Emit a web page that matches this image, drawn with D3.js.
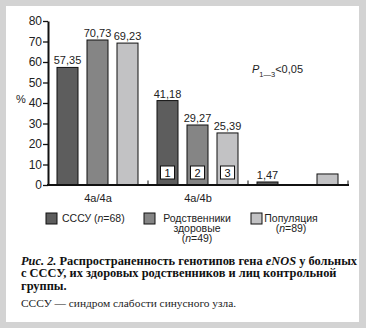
<!DOCTYPE html>
<html>
<head>
<meta charset="utf-8">
<script src="https://cdn.jsdelivr.net/npm/d3@7"></script>
<style>
  html, body { margin: 0; padding: 0; background: #fff; }
  svg { display: block; }
  .sans { font-family: "Liberation Sans", Arial, Helvetica, sans-serif; }
  .serif { font-family: "Liberation Serif", "Times New Roman", serif; }
</style>
</head>
<body>
<svg id="chart" width="366" height="328"></svg>
<script>
// Genotype groups (x axis) and their printed labels
const genotypes = [0, 1, 2];
const genotypeLabels = ["4a/4a", "4a/4b", ""];

// Study groups (series)
const seriesNames = ["СССУ", "Родственники здоровые", "Популяция"];
const seriesColors = ["#5d5d5d", "#858585", "#c2c2c4"];
const seriesBoxes = ["1", "2", "3"];

// Frequencies, % (rows = genotype, columns = study group)
const sssuValues = [57.35, 41.18, 1.47];
const relativesValues = [70.73, 29.27, 0];
const populationValues = [69.23, 25.39, 5.38];
// Whether each value is printed above its bar
const sssuLabelled = [true, true, true];
const relativesLabelled = [true, true, false];
const populationLabelled = [true, true, false];

const yTicks = [0, 10, 20, 30, 40, 50, 60, 70, 80];

const seriesValues = [sssuValues, relativesValues, populationValues];
const seriesLabelled = [sssuLabelled, relativesLabelled, populationLabelled];

const svg = d3.select("#chart");

// Paper frame
svg.append("rect").attr("width", 366).attr("height", 328).attr("fill", "#d3d3d3");
svg.append("rect").attr("x", 6).attr("y", 6).attr("width", 353).attr("height", 316).attr("fill", "#fff");

const y = d3.scaleLinear().domain([0, 80]).range([185, 21]);
const x0 = d3.scaleBand().domain(genotypes).range([48, 348]).padding(0);
const x1 = d3.scaleBand().domain([0, 1, 2]).range([0, 99]).paddingInner(0.3).paddingOuter(0.3);

const fmt = v => d3.format(".2f")(v).replace(".", ",");

// Bars
const bars = [];
genotypes.forEach((g, gi) => {
  seriesValues.forEach((vals, si) => {
    bars.push({ g, si, v: vals[gi], lab: seriesLabelled[si][gi] });
  });
});

const chart = svg.append("g");

chart.selectAll("rect.bar")
  .data(bars.filter(d => d.v > 0))
  .join("rect")
  .attr("class", "bar")
  .attr("x", d => x0(d.g) + x1(d.si))
  .attr("y", d => y(d.v))
  .attr("width", x1.bandwidth())
  .attr("height", d => y(0) - y(d.v))
  .attr("fill", d => seriesColors[d.si])
  .attr("stroke", "#111")
  .attr("stroke-width", 1);

// Value labels
chart.selectAll("text.val")
  .data(bars.filter(d => d.lab))
  .join("text")
  .attr("class", "val sans")
  .attr("x", d => x0(d.g) + x1(d.si) + x1.bandwidth() / 2)
  .attr("y", d => y(d.v) - 3)
  .attr("text-anchor", "middle")
  .attr("font-size", 11)
  .attr("fill", "#222")
  .text(d => fmt(d.v));

// Numbered boxes inside the 4a/4b bars
const boxed = bars.filter(d => d.g === 1);
const boxG = chart.selectAll("g.box")
  .data(boxed)
  .join("g")
  .attr("class", "box")
  .attr("transform", d => `translate(${x0(d.g) + x1(d.si) + x1.bandwidth() / 2},${y(0) - 12.5})`);
boxG.append("rect")
  .attr("x", -7).attr("y", -6.5).attr("width", 14).attr("height", 13)
  .attr("fill", "#fff").attr("stroke", "#111").attr("stroke-width", 1);
boxG.append("text")
  .attr("class", "sans")
  .attr("text-anchor", "middle")
  .attr("y", 4)
  .attr("font-size", 11)
  .attr("fill", "#111")
  .text(d => seriesBoxes[d.si]);

// Y axis
const yAxis = svg.append("g")
  .attr("class", "sans")
  .attr("transform", "translate(48,0)")
  .call(d3.axisLeft(y).tickValues(yTicks).tickSize(5).tickPadding(1).tickSizeOuter(0));
yAxis.select(".domain").attr("stroke", "#111").attr("stroke-width", 2);
yAxis.selectAll(".tick line").attr("stroke", "#111").attr("stroke-width", 1.3);
yAxis.selectAll(".tick text").attr("font-size", 12).attr("fill", "#222").attr("font-family", null);

// X axis
const xAxis = svg.append("g")
  .attr("class", "sans")
  .attr("transform", `translate(0,${y(0)})`);
xAxis.append("line")
  .attr("x1", 47).attr("x2", x0.range()[1] + 1)
  .attr("stroke", "#111").attr("stroke-width", 2);
xAxis.selectAll("line.sep")
  .data(genotypes)
  .join("line")
  .attr("class", "sep")
  .attr("x1", d => x0(d) + x0.bandwidth())
  .attr("x2", d => x0(d) + x0.bandwidth())
  .attr("y1", 0).attr("y2", -4.5)
  .attr("stroke", "#111").attr("stroke-width", 1);
xAxis.selectAll("text.cat")
  .data(genotypes)
  .join("text")
  .attr("class", "cat")
  .attr("x", d => x0(d) + x0.bandwidth() / 2)
  .attr("y", 17)
  .attr("text-anchor", "middle")
  .attr("font-size", 11)
  .attr("fill", "#222")
  .text(d => genotypeLabels[d]);

// Axis title
svg.append("text").attr("class", "sans")
  .attr("x", 21).attr("y", 103).attr("text-anchor", "middle")
  .attr("font-size", 11).attr("fill", "#222").text("%");

// Significance note
const pNote = svg.append("text").attr("class", "sans")
  .attr("x", 252).attr("y", 73).attr("font-size", 11).attr("fill", "#222");
pNote.append("tspan").attr("font-style", "italic").text("P");
pNote.append("tspan").attr("dy", 3.5).attr("font-size", 7.5).text("1—3");
pNote.append("tspan").attr("dy", -3.5).text("<0,05");

// Legend
const legendItems = [
  { si: 0, sx: 46, tx: 62, anchor: "start", lines: [["СССУ (", ["n", true], "=68)"]] },
  { si: 1, sx: 144, tx: 197, anchor: "middle", lines: [["Родственники"], ["здоровые"], ["(", ["n", true], "=49)"]] },
  { si: 2, sx: 251, tx: 291, anchor: "middle", lines: [["Популяция"], ["(", ["n", true], "=89)"]] }
];
const leg = svg.append("g").attr("class", "sans");
legendItems.forEach(item => {
  leg.append("rect")
    .attr("x", item.sx).attr("y", 213).attr("width", 11).attr("height", 11)
    .attr("fill", seriesColors[item.si]).attr("stroke", "#111").attr("stroke-width", 1);
  item.lines.forEach((parts, li) => {
    const t = leg.append("text")
      .attr("x", item.tx).attr("y", 222 + li * 10)
      .attr("text-anchor", item.anchor)
      .attr("font-size", 10.5).attr("fill", "#222");
    parts.forEach(p => {
      if (Array.isArray(p)) t.append("tspan").attr("font-style", "italic").text(p[0]);
      else t.append("tspan").text(p);
    });
  });
});

// Caption
const cap = svg.append("g").attr("class", "serif").attr("fill", "#111");
const capLines = [
  [["Рис. 2.", "bi"], [" Распространенность генотипов гена ", "b"], ["eNOS", "bi"], [" у больных", "b"]],
  [["с СССУ, их здоровых родственников и лиц контрольной", "b"]],
  [["группы.", "b"]]
];
capLines.forEach((parts, li) => {
  const t = cap.append("text").attr("x", 21).attr("y", 265 + li * 12.3).attr("font-size", 12.4);
  parts.forEach(([s, st]) => {
    t.append("tspan")
      .attr("font-weight", "bold")
      .attr("font-style", st === "bi" ? "italic" : null)
      .text(s);
  });
});
cap.append("text").attr("x", 21).attr("y", 307).attr("font-size", 11.4)
  .attr("fill", "#222").text("СССУ — синдром слабости синусного узла.");
</script>
</body>
</html>
